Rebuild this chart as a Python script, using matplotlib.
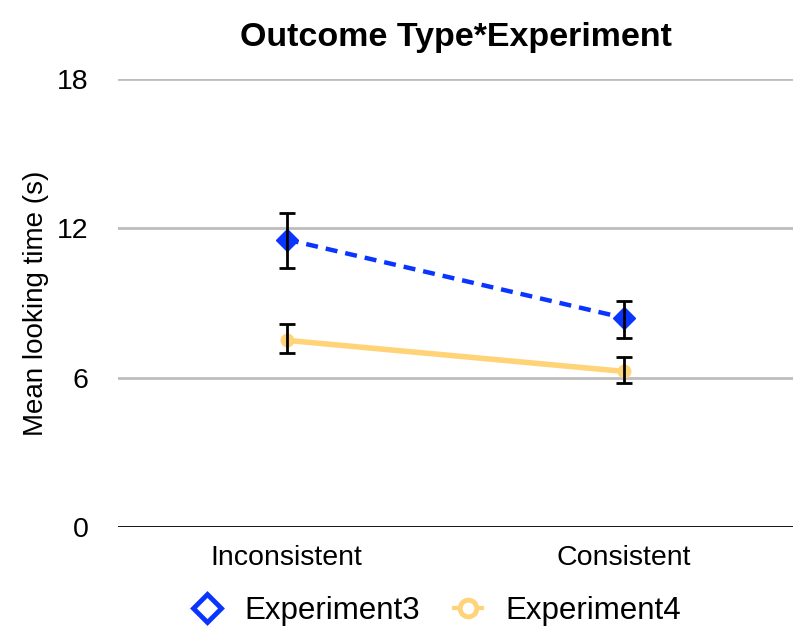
import matplotlib.pyplot as plt
from matplotlib.lines import Line2D

plt.rcParams['font.family'] = ['Liberation Sans', 'DejaVu Sans']

# Mean looking times and error bar extents per outcome type
conditions = ['Inconsistent', 'Consistent']
exp3_mean = [11.55, 8.4]
exp3_lo = [10.4, 7.6]
exp3_hi = [12.6, 9.1]
exp4_mean = [7.5, 6.25]
exp4_lo = [7.0, 5.8]
exp4_hi = [8.15, 6.85]
yticks = [0, 6, 12, 18]

BLUE = '#0a35ff'
YELLOW = '#ffd479'

fig = plt.figure(figsize=(7.93, 6.33), dpi=100)
W, H = 793, 633
ax = fig.add_axes([118 / W, (H - 527) / H, (W - 118) / W, (527 - 79) / H])

x = list(range(len(conditions)))

ax.plot(x, exp3_mean, color=BLUE, lw=3.2, ls=(0, (2.7, 1.8)), marker='D',
        ms=11, mfc=BLUE, mec=BLUE, zorder=3)
ax.plot(x, exp4_mean, color=YELLOW, lw=4, marker='o', ms=9,
        mfc=YELLOW, mec=YELLOW, zorder=3)

for mean, lo, hi in [(exp3_mean, exp3_lo, exp3_hi), (exp4_mean, exp4_lo, exp4_hi)]:
    err = [[m - l for m, l in zip(mean, lo)], [h - m for m, h in zip(mean, hi)]]
    ax.errorbar(x, mean, yerr=err, fmt='none', ecolor='black', elinewidth=2,
                capsize=6, capthick=2, zorder=4)

ax.set_xlim(-0.5, 1.5)
ax.set_ylim(0, 18)
ax.set_yticks(yticks)
ax.set_xticks(x)
ax.set_xticklabels(conditions)
for v in yticks[1:]:
    ax.axhline(v, color='#bdbdbd', lw=2, zorder=1)
ax.axhline(0, color='black', lw=2, zorder=2)

for s in ax.spines.values():
    s.set_visible(False)
ax.tick_params(axis='both', length=0, labelsize=20.5)
ax.tick_params(axis='y', pad=21)
ax.tick_params(axis='x', pad=13)

ax.set_ylabel('Mean looking time (s)', fontsize=20, labelpad=6)
ax.set_title('Outcome Type*Experiment', fontsize=24.5, fontweight='bold', pad=24)

handles = [
    Line2D([], [], ls='none', marker='D', ms=14, mfc='white', mec=BLUE, mew=3.5),
    Line2D([], [], color=YELLOW, lw=3, marker='o', ms=12, mfc='white', mec=YELLOW, mew=3.5),
]
fig.legend(handles, ['Experiment3', 'Experiment4'], loc='center',
           bbox_to_anchor=(437 / W, (H - 611) / H), ncol=2, frameon=False,
           fontsize=22.5, handlelength=0.9, columnspacing=1.1, handletextpad=0.75)

fig.savefig('out.png', dpi=100)
